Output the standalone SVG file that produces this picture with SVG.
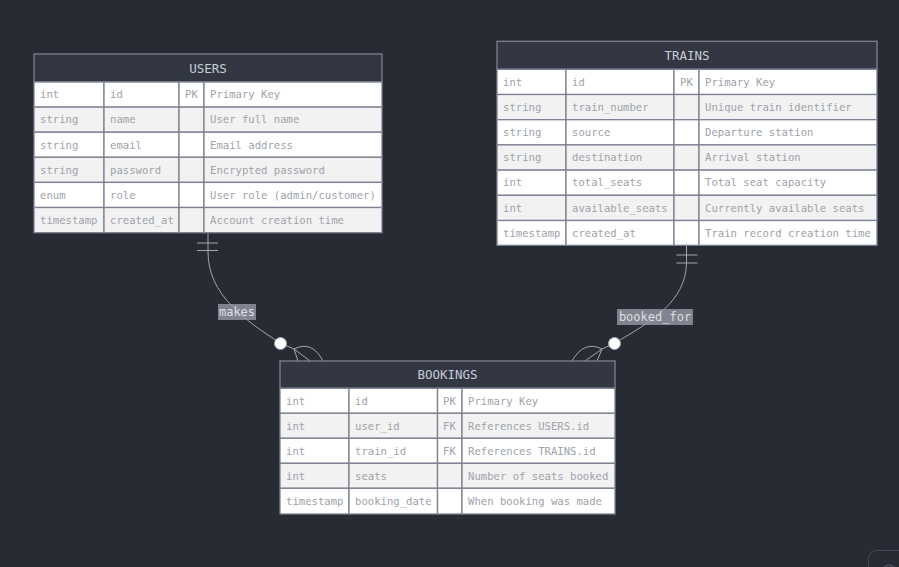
<svg xmlns="http://www.w3.org/2000/svg" width="899" height="567" viewBox="0 0 899 567">
<style>
.bg{fill:#272b34}
.hdr{fill:#333744;stroke:#7d8191;stroke-width:1.3}
.r0{fill:#ffffff;stroke:#7d8191;stroke-width:1.3}
.r1{fill:#f2f2f2;stroke:#7d8191;stroke-width:1.3}
.ht{font-family:"DejaVu Sans Mono","Liberation Mono",monospace;font-size:12.5px;fill:#c8ccd4;text-anchor:middle}
.t{font-family:"DejaVu Sans Mono","Liberation Mono",monospace;font-size:10.6px;fill:#9ea2aa}
.e{fill:none;stroke:#a3a6ae;stroke-width:1}
.dot{fill:#ffffff;stroke:#a3a6ae;stroke-width:1}
.lb{fill:#9a9ea8;opacity:0.78}
.lt{font-family:"DejaVu Sans Mono","Liberation Mono",monospace;font-size:12px;fill:#dcdfe4;text-anchor:middle}
</style>
<rect class="bg" x="0" y="0" width="899" height="567"/>

<g id="connectors">
  <path class="e" d="M208,233 L208,252 C208,295 245,320 280,343 L294,349"/>
  <line class="e" x1="197" y1="243" x2="218" y2="243"/>
  <line class="e" x1="197" y1="250.5" x2="218" y2="250.5"/>
  <path class="e" d="M294,349 L298,361 M294,349 L310,361 M294,349 Q312,340 323,361"/>
  <circle class="dot" cx="280.5" cy="343.5" r="6"/>
  <rect class="lb" x="218" y="304" width="38" height="16"/>
  <text class="lt" x="237" y="316">makes</text>

  <path class="e" d="M686.5,245 L686.5,262 C686.5,302 650,322 615,343 L602,349"/>
  <line class="e" x1="676.5" y1="255" x2="697.5" y2="255"/>
  <line class="e" x1="676.5" y1="263" x2="697.5" y2="263"/>
  <path class="e" d="M602,349 L597,361 M602,349 L585,361 M602,349 Q584,340 572,361"/>
  <circle class="dot" cx="614.5" cy="343.5" r="6"/>
  <rect class="lb" x="617" y="309" width="76" height="16"/>
  <text class="lt" x="655" y="321">booked_for</text>
</g>

<g id="USERS">
  <rect class="hdr" x="34" y="54" width="348" height="28"/>
  <text class="ht" x="208" y="72.5">USERS</text>
  <rect class="r0" x="34" y="82" width="70" height="25.1"/><rect class="r0" x="104" y="82" width="75" height="25.1"/><rect class="r0" x="179" y="82" width="25" height="25.1"/><rect class="r0" x="204" y="82" width="178" height="25.1"/>
  <rect class="r1" x="34" y="107.1" width="70" height="25.1"/><rect class="r1" x="104" y="107.1" width="75" height="25.1"/><rect class="r1" x="179" y="107.1" width="25" height="25.1"/><rect class="r1" x="204" y="107.1" width="178" height="25.1"/>
  <rect class="r0" x="34" y="132.2" width="70" height="25.1"/><rect class="r0" x="104" y="132.2" width="75" height="25.1"/><rect class="r0" x="179" y="132.2" width="25" height="25.1"/><rect class="r0" x="204" y="132.2" width="178" height="25.1"/>
  <rect class="r1" x="34" y="157.3" width="70" height="25.1"/><rect class="r1" x="104" y="157.3" width="75" height="25.1"/><rect class="r1" x="179" y="157.3" width="25" height="25.1"/><rect class="r1" x="204" y="157.3" width="178" height="25.1"/>
  <rect class="r0" x="34" y="182.4" width="70" height="25.1"/><rect class="r0" x="104" y="182.4" width="75" height="25.1"/><rect class="r0" x="179" y="182.4" width="25" height="25.1"/><rect class="r0" x="204" y="182.4" width="178" height="25.1"/>
  <rect class="r1" x="34" y="207.5" width="70" height="25.2"/><rect class="r1" x="104" y="207.5" width="75" height="25.2"/><rect class="r1" x="179" y="207.5" width="25" height="25.2"/><rect class="r1" x="204" y="207.5" width="178" height="25.2"/>
  <text class="t" x="40" y="98.3">int</text><text class="t" x="110" y="98.3">id</text><text class="t" x="185" y="98.3">PK</text><text class="t" x="210" y="98.3">Primary Key</text>
  <text class="t" x="40" y="123.4">string</text><text class="t" x="110" y="123.4">name</text><text class="t" x="210" y="123.4">User full name</text>
  <text class="t" x="40" y="148.5">string</text><text class="t" x="110" y="148.5">email</text><text class="t" x="210" y="148.5">Email address</text>
  <text class="t" x="40" y="173.6">string</text><text class="t" x="110" y="173.6">password</text><text class="t" x="210" y="173.6">Encrypted password</text>
  <text class="t" x="40" y="198.7">enum</text><text class="t" x="110" y="198.7">role</text><text class="t" x="210" y="198.7">User role (admin/customer)</text>
  <text class="t" x="40" y="223.8">timestamp</text><text class="t" x="110" y="223.8">created_at</text><text class="t" x="210" y="223.8">Account creation time</text>
</g>

<g id="TRAINS">
  <rect class="hdr" x="497" y="41.3" width="380" height="28"/>
  <text class="ht" x="687" y="59.5">TRAINS</text>
  <rect class="r0" x="497" y="69.3" width="69" height="25.2"/><rect class="r0" x="566" y="69.3" width="108" height="25.2"/><rect class="r0" x="674" y="69.3" width="25" height="25.2"/><rect class="r0" x="699" y="69.3" width="178" height="25.2"/>
  <rect class="r1" x="497" y="94.5" width="69" height="25.2"/><rect class="r1" x="566" y="94.5" width="108" height="25.2"/><rect class="r1" x="674" y="94.5" width="25" height="25.2"/><rect class="r1" x="699" y="94.5" width="178" height="25.2"/>
  <rect class="r0" x="497" y="119.7" width="69" height="25.2"/><rect class="r0" x="566" y="119.7" width="108" height="25.2"/><rect class="r0" x="674" y="119.7" width="25" height="25.2"/><rect class="r0" x="699" y="119.7" width="178" height="25.2"/>
  <rect class="r1" x="497" y="144.9" width="69" height="25.2"/><rect class="r1" x="566" y="144.9" width="108" height="25.2"/><rect class="r1" x="674" y="144.9" width="25" height="25.2"/><rect class="r1" x="699" y="144.9" width="178" height="25.2"/>
  <rect class="r0" x="497" y="170.1" width="69" height="25.2"/><rect class="r0" x="566" y="170.1" width="108" height="25.2"/><rect class="r0" x="674" y="170.1" width="25" height="25.2"/><rect class="r0" x="699" y="170.1" width="178" height="25.2"/>
  <rect class="r1" x="497" y="195.3" width="69" height="25.2"/><rect class="r1" x="566" y="195.3" width="108" height="25.2"/><rect class="r1" x="674" y="195.3" width="25" height="25.2"/><rect class="r1" x="699" y="195.3" width="178" height="25.2"/>
  <rect class="r0" x="497" y="220.5" width="69" height="24.8"/><rect class="r0" x="566" y="220.5" width="108" height="24.8"/><rect class="r0" x="674" y="220.5" width="25" height="24.8"/><rect class="r0" x="699" y="220.5" width="178" height="24.8"/>
  <text class="t" x="503" y="85.6">int</text><text class="t" x="572" y="85.6">id</text><text class="t" x="680" y="85.6">PK</text><text class="t" x="705" y="85.6">Primary Key</text>
  <text class="t" x="503" y="110.8">string</text><text class="t" x="572" y="110.8">train_number</text><text class="t" x="705" y="110.8">Unique train identifier</text>
  <text class="t" x="503" y="136">string</text><text class="t" x="572" y="136">source</text><text class="t" x="705" y="136">Departure station</text>
  <text class="t" x="503" y="161.2">string</text><text class="t" x="572" y="161.2">destination</text><text class="t" x="705" y="161.2">Arrival station</text>
  <text class="t" x="503" y="186.4">int</text><text class="t" x="572" y="186.4">total_seats</text><text class="t" x="705" y="186.4">Total seat capacity</text>
  <text class="t" x="503" y="211.6">int</text><text class="t" x="572" y="211.6">available_seats</text><text class="t" x="705" y="211.6">Currently available seats</text>
  <text class="t" x="503" y="236.6">timestamp</text><text class="t" x="572" y="236.6">created_at</text><text class="t" x="705" y="236.6">Train record creation time</text>
</g>

<g id="BOOKINGS">
  <rect class="hdr" x="280" y="361" width="335" height="27.3"/>
  <text class="ht" x="447.5" y="379">BOOKINGS</text>
  <rect class="r0" x="280" y="388.3" width="69" height="25"/><rect class="r0" x="349" y="388.3" width="88.5" height="25"/><rect class="r0" x="437.5" y="388.3" width="24.5" height="25"/><rect class="r0" x="462" y="388.3" width="153" height="25"/>
  <rect class="r1" x="280" y="413.3" width="69" height="25"/><rect class="r1" x="349" y="413.3" width="88.5" height="25"/><rect class="r1" x="437.5" y="413.3" width="24.5" height="25"/><rect class="r1" x="462" y="413.3" width="153" height="25"/>
  <rect class="r0" x="280" y="438.3" width="69" height="25"/><rect class="r0" x="349" y="438.3" width="88.5" height="25"/><rect class="r0" x="437.5" y="438.3" width="24.5" height="25"/><rect class="r0" x="462" y="438.3" width="153" height="25"/>
  <rect class="r1" x="280" y="463.3" width="69" height="25"/><rect class="r1" x="349" y="463.3" width="88.5" height="25"/><rect class="r1" x="437.5" y="463.3" width="24.5" height="25"/><rect class="r1" x="462" y="463.3" width="153" height="25"/>
  <rect class="r0" x="280" y="488.3" width="69" height="25.7"/><rect class="r0" x="349" y="488.3" width="88.5" height="25.7"/><rect class="r0" x="437.5" y="488.3" width="24.5" height="25.7"/><rect class="r0" x="462" y="488.3" width="153" height="25.7"/>
  <text class="t" x="286" y="404.5">int</text><text class="t" x="355" y="404.5">id</text><text class="t" x="443" y="404.5">PK</text><text class="t" x="468" y="404.5">Primary Key</text>
  <text class="t" x="286" y="429.5">int</text><text class="t" x="355" y="429.5">user_id</text><text class="t" x="443" y="429.5">FK</text><text class="t" x="468" y="429.5">References USERS.id</text>
  <text class="t" x="286" y="454.5">int</text><text class="t" x="355" y="454.5">train_id</text><text class="t" x="443" y="454.5">FK</text><text class="t" x="468" y="454.5">References TRAINS.id</text>
  <text class="t" x="286" y="479.5">int</text><text class="t" x="355" y="479.5">seats</text><text class="t" x="468" y="479.5">Number of seats booked</text>
  <text class="t" x="286" y="504.8">timestamp</text><text class="t" x="355" y="504.8">booking_date</text><text class="t" x="468" y="504.8">When booking was made</text>
</g>

<g id="corner-control">
  <rect x="868.5" y="550.5" width="44" height="40" rx="8" fill="none" stroke="#444957" stroke-width="1"/>
  <circle cx="889" cy="572" r="7" fill="none" stroke="#5a5f6c" stroke-width="1.2"/>
</g>
</svg>
